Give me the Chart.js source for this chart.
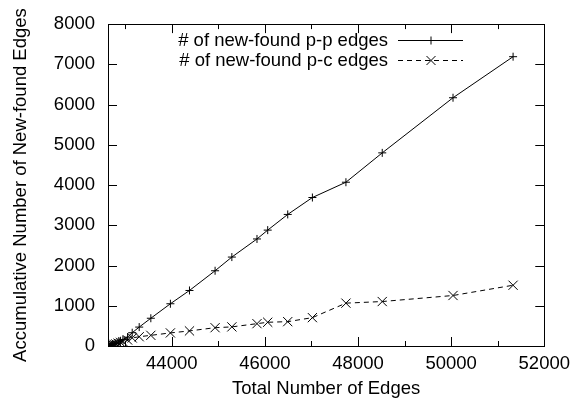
<!DOCTYPE html>
<html>
<head>
<meta charset="utf-8">
<script src="https://cdn.jsdelivr.net/npm/chart.js@4"></script>
<style>
  body { margin: 0; background: #fff; }
  #wrap { width: 577px; height: 402px; }
</style>
</head>
<body>
<div id="wrap"><canvas id="myChart" width="577" height="402"></canvas></div>
<script>
// total number of edges (x) for each sample
var totalEdges = [42640, 42670, 42700, 42730, 42760, 42800, 42850, 42900, 42950, 43050, 43150, 43300, 43550, 43970,
                  44380, 44930, 45290, 45830, 46060, 46490, 47020, 47740, 48520, 50040, 51330]
var ppEdges = [5, 15, 30, 45, 60, 75, 100, 130, 160, 220, 330, 470, 690, 1050,
               1380, 1870, 2210, 2660, 2880, 3270, 3690, 4070, 4800, 6170, 7190]
var pcEdges = [5, 10, 20, 30, 40, 50, 70, 90, 110, 150, 200, 230, 265, 325,
               375, 455, 475, 555, 590, 605, 705, 1065, 1105, 1255, 1510]
var xTicks = [44000, 46000, 48000, 50000, 52000]
var xMinor = [43000, 45000, 47000, 49000, 51000]
var yTicks = [0, 1000, 2000, 3000, 4000, 5000, 6000, 7000, 8000]
var seriesNames = ['# of new-found p-p edges', '# of new-found p-c edges']

function pts(ys) {
    var out = []
    for (var i = 0; i < totalEdges.length; i++) {
        out.push({x: totalEdges[i], y: ys[i]})
    }
    return out
}

var FONT = '"Liberation Sans", Arial, Helvetica, sans-serif'
var FSIZE = 18.5

// gnuplot style frame, inward ticks and key
var framePlugin = {
    id: 'frame',
    afterDraw: function(chart) {
        var ctx = chart.ctx
        var a = chart.chartArea
        var xs = chart.scales.x, ys = chart.scales.y
        ctx.save()
        ctx.strokeStyle = '#000'
        ctx.lineWidth = 1
        ctx.beginPath()
        xTicks.forEach(function(v) {
            var px = Math.round(xs.getPixelForValue(v)) + 0.5
            ctx.moveTo(px, a.bottom); ctx.lineTo(px, a.bottom - 9)
            ctx.moveTo(px, a.top); ctx.lineTo(px, a.top + 9)
        })
        xMinor.forEach(function(v) {
            var px = Math.round(xs.getPixelForValue(v)) + 0.5
            ctx.moveTo(px, a.bottom); ctx.lineTo(px, a.bottom - 5)
            ctx.moveTo(px, a.top); ctx.lineTo(px, a.top + 5)
        })
        yTicks.forEach(function(v) {
            var py = Math.round(ys.getPixelForValue(v)) + 0.5
            ctx.moveTo(a.left, py); ctx.lineTo(a.left + 9, py)
            ctx.moveTo(a.right, py); ctx.lineTo(a.right - 9, py)
        })
        ctx.stroke()
        ctx.strokeRect(Math.round(a.left) + 0.5, Math.round(a.top) + 0.5,
                       Math.round(a.right - a.left), Math.round(a.bottom - a.top))

        // key
        ctx.font = FSIZE + 'px ' + FONT
        ctx.fillStyle = '#000'
        ctx.textAlign = 'right'
        ctx.textBaseline = 'middle'
        var rows = [40, 60]
        chart.data.datasets.forEach(function(ds, i) {
            var y = rows[i] + 0.5
            ctx.fillText(seriesNames[i], 388, rows[i] + 1)
            ctx.setLineDash(ds.borderDash || [])
            ctx.beginPath()
            ctx.moveTo(398, y); ctx.lineTo(463, y)
            ctx.stroke()
            ctx.setLineDash([])
            var cx = 431, r = i == 0 ? 4 : 4.5
            ctx.beginPath()
            if (i == 0) {
                ctx.moveTo(cx - r, y); ctx.lineTo(cx + r, y)
                ctx.moveTo(cx, y - r); ctx.lineTo(cx, y + r)
            } else {
                ctx.moveTo(cx - r, y - r); ctx.lineTo(cx + r, y + r)
                ctx.moveTo(cx - r, y + r); ctx.lineTo(cx + r, y - r)
            }
            ctx.stroke()
        })
        ctx.restore()
    }
}

var ctx = document.getElementById('myChart')
var myChart = new Chart(ctx, {
    type: 'scatter',
    data: {
        datasets: [{
            label: seriesNames[0],
            data: pts(ppEdges),
            showLine: true,
            borderColor: '#000',
            backgroundColor: '#000',
            borderWidth: 1,
            pointStyle: 'cross',
            pointRadius: 4,
            pointBorderWidth: 1
        }, {
            label: seriesNames[1],
            data: pts(pcEdges),
            showLine: true,
            borderColor: '#000',
            backgroundColor: '#000',
            borderWidth: 1,
            borderDash: [5, 4],
            pointStyle: 'crossRot',
            pointRadius: 6.5,
            pointBorderWidth: 1
        }]
    },
    options: {
        responsive: false,
        animation: false,
        layout: { padding: { left: 0, right: 31, top: 21, bottom: 0 } },
        plugins: {
            legend: { display: false },
            tooltip: { enabled: false }
        },
        scales: {
            x: {
                type: 'linear',
                min: 42630,
                max: 52000,
                grid: { display: false, drawTicks: false },
                border: { display: false },
                afterBuildTicks: function(s) { s.ticks = xTicks.map(function(v) { return {value: v} }) },
                afterFit: function(s) { s.height = 56 },
                ticks: {
                    color: '#000',
                    padding: 7,
                    maxRotation: 0,
                    font: { family: FONT, size: FSIZE },
                    callback: function(v) { return String(v) }
                },
                title: {
                    display: true,
                    text: 'Total Number of Edges',
                    color: '#000',
                    padding: { top: 0, bottom: 2 },
                    font: { family: FONT, size: FSIZE }
                }
            },
            y: {
                type: 'linear',
                min: 0,
                max: 8000,
                grid: { display: false, drawTicks: false },
                border: { display: false },
                afterBuildTicks: function(s) { s.ticks = yTicks.map(function(v) { return {value: v} }) },
                afterFit: function(s) { s.width = 108 },
                ticks: {
                    color: '#000',
                    padding: 13,
                    font: { family: FONT, size: FSIZE },
                    callback: function(v) { return String(v) }
                },
                title: {
                    display: true,
                    text: 'Accumulative Number of New-found Edges',
                    color: '#000',
                    padding: { top: 10, bottom: 0 },
                    font: { family: FONT, size: FSIZE }
                }
            }
        }
    },
    plugins: [framePlugin]
})
</script>
</body>
</html>
